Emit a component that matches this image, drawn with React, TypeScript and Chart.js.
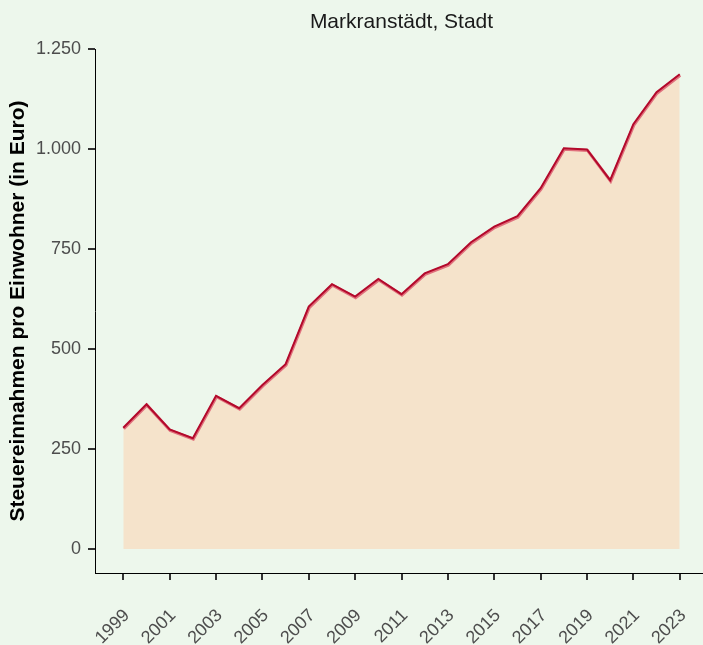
import React, { useEffect, useRef } from 'react';
import { Chart, registerables } from 'chart.js';

Chart.register(...registerables);

const chartTitle = 'Markranstädt, Stadt';
const yAxisTitle = 'Steuereinnahmen pro Einwohner (in Euro)';

const years = [
  1999, 2000, 2001, 2002, 2003, 2004, 2005, 2006, 2007, 2008, 2009, 2010, 2011,
  2012, 2013, 2014, 2015, 2016, 2017, 2018, 2019, 2020, 2021, 2022, 2023,
];
const values = [
  303, 362, 299, 277, 383, 352, 410, 462, 606, 662, 631, 675, 637,
  689, 712, 767, 806, 832, 902, 1002, 999, 922, 1062, 1142, 1187,
];
const xTickValues = [1999, 2001, 2003, 2005, 2007, 2009, 2011, 2013, 2015, 2017, 2019, 2021, 2023];
const yTickValues = [0, 250, 500, 750, 1000, 1250];

const FONT = '"Liberation Sans", Arial, Helvetica, sans-serif';
const BG = '#edf7ec';

const fmtDe = (v: number) => String(v).replace(/\B(?=(\d{3})+(?!\d))/g, '.');

export default function App() {
  const ref = useRef<HTMLCanvasElement | null>(null);

  useEffect(() => {
    if (!ref.current) return;
    const points = years.map((y, i) => ({ x: y, y: values[i] }));

    const bgPlugin = {
      id: 'bg',
      beforeDraw(chart: any) {
        const { ctx, width, height } = chart;
        ctx.save();
        ctx.fillStyle = BG;
        ctx.fillRect(0, 0, width, height);
        ctx.restore();
      },
    };
    const titlePlugin = {
      id: 'customTitle',
      afterDraw(chart: any) {
        const { ctx, chartArea } = chart;
        ctx.save();
        ctx.font = `21px ${FONT}`;
        ctx.fillStyle = '#1a1a1a';
        ctx.textAlign = 'center';
        ctx.textBaseline = 'middle';
        ctx.fillText(chartTitle, (chartArea.left + chartArea.right) / 2, 22.6);
        ctx.restore();
      },
    };
    const haloPlugin = {
      id: 'halo',
      beforeDatasetDraw(chart: any, args: any) {
        if (args.index === 1) {
          chart.ctx.save();
          chart.ctx.translate(0.5, 1);
        }
      },
      afterDatasetDraw(chart: any, args: any) {
        if (args.index === 1) chart.ctx.restore();
      },
    };

    const chart = new Chart(ref.current, {
      type: 'line',
      data: {
        datasets: [
          {
            data: points,
            borderColor: '#b3092b',
            borderWidth: 2,
            pointRadius: 0,
            fill: false,
            tension: 0,
          },
          {
            data: points,
            borderColor: '#e0707c',
            borderWidth: 3,
            pointRadius: 0,
            fill: 'origin',
            backgroundColor: '#f5e3cb',
            tension: 0,
          },
        ],
      },
      options: {
        responsive: false,
        animation: false,
        layout: { padding: { top: 49, left: 0, right: 0, bottom: 0 } },
        plugins: {
          legend: { display: false },
          tooltip: { enabled: false },
          title: { display: false },
        },
        scales: {
          x: {
            type: 'linear',
            min: 1997.78,
            max: 2024.22,
            afterBuildTicks: (s: any) => {
              s.ticks = xTickValues.map((v) => ({ value: v }));
            },
            afterFit: (s: any) => {
              s.height = 72;
              s.paddingLeft = 0;
              s.paddingRight = 0;
            },
            grid: {
              drawOnChartArea: false,
              drawTicks: true,
              tickLength: 7,
              tickWidth: 2,
              lineWidth: 2,
              tickColor: '#333333',
              color: '#333333',
            },
            border: { display: true, color: '#000000', width: 1 },
            ticks: {
              autoSkip: false,
              maxRotation: 45,
              minRotation: 45,
              padding: 25,
              labelOffset: 3.5,
              color: '#4d4d4d',
              font: { family: FONT, size: 18 },
              callback: (v: any) => String(v),
            },
          },
          y: {
            type: 'linear',
            min: -60,
            max: 1250,
            afterBuildTicks: (s: any) => {
              s.ticks = yTickValues.map((v) => ({ value: v }));
            },
            afterFit: (s: any) => {
              s.width = 95;
              s.paddingTop = 0;
              s.paddingBottom = 0;
            },
            grid: {
              drawOnChartArea: false,
              drawTicks: true,
              tickLength: 7,
              tickWidth: 2,
              lineWidth: 2,
              tickColor: '#333333',
              color: '#333333',
            },
            border: { display: true, color: '#000000', width: 1 },
            ticks: {
              padding: 7,
              color: '#4d4d4d',
              font: { family: FONT, size: 18 },
              callback: (v: any) => fmtDe(Number(v)),
            },
            title: {
              display: true,
              text: yAxisTitle,
              color: '#000000',
              font: { family: FONT, size: 21, weight: 'bold' },
              padding: { top: 6, bottom: 0 },
            },
          },
        },
      },
      plugins: [bgPlugin, haloPlugin, titlePlugin],
    } as any);

    return () => chart.destroy();
  }, []);

  return (
    <div
      style={{
        position: 'absolute',
        left: 0,
        top: 0,
        width: 703,
        height: 645,
        overflow: 'hidden',
        background: BG,
      }}
    >
      <canvas ref={ref} width={708} height={645} style={{ display: 'block' }} />
    </div>
  );
}
